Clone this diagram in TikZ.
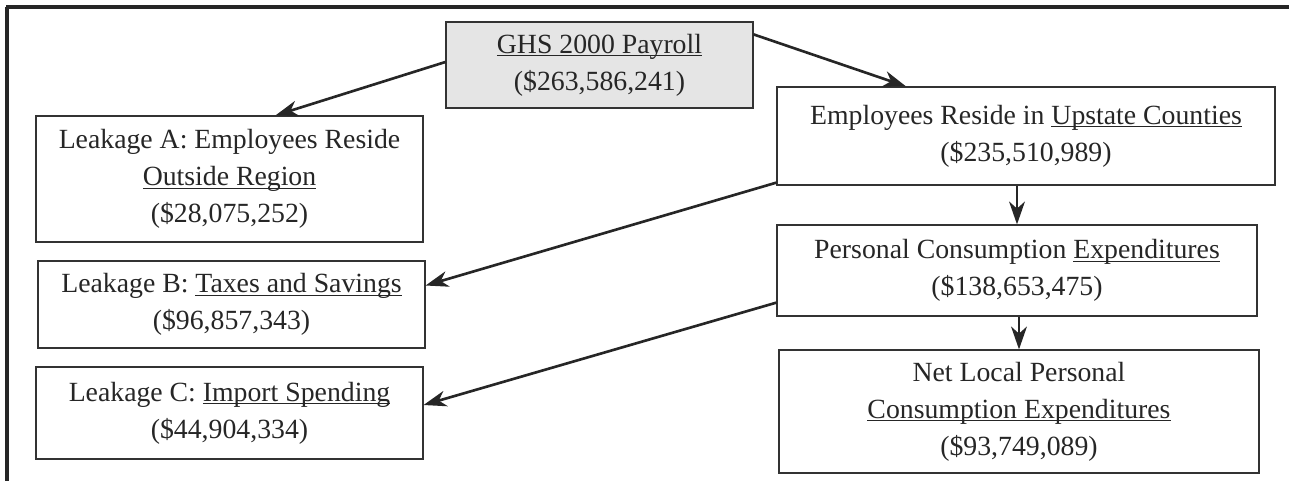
\documentclass[tikz,border=0pt]{standalone}
\usepackage{fontspec}
\setmainfont{Liberation Serif}
\usetikzlibrary{arrows.meta, positioning, calc}
\newcommand{\uln}[1]{\underline{\smash{#1}}\vphantom{#1}}

\begin{document}
\begin{tikzpicture}[
        x=0.02cm, y=-0.02cm,
        every node/.style={font=\fontsize{15.8}{21}\selectfont, text=black!85, align=center},
        box/.style={draw=black!80, line width=0.7pt, inner sep=2pt},
        arr/.style={-{Stealth[length=13pt, width=9pt, inset=4pt]}, line width=1.5pt, black!85}
    ]
        \useasboundingbox (0,0) rectangle (1289,481);
        % Frame
        \draw[line width=2pt, black!85] (6,7) -- (1289,7);
        \draw[line width=2pt, black!85] (7,7) -- (7,481);

        % Top
        \node[box, fill=gray!20, minimum width=6.14cm, minimum height=1.72cm] (payroll) at (599.5,65) {\uln{GHS 2000 Payroll}\\(\$263,586,241)};

        % Leakages
        \node[box, minimum width=7.74cm, minimum height=2.52cm] (leakA) at (229.5,179) {Leakage A: Employees Reside\\\uln{Outside Region}\\(\$28,075,252)};
        \node[box, minimum width=7.74cm, minimum height=1.74cm] (leakB) at (231.5,304.5) {Leakage B: \uln{Taxes and Savings}\\(\$96,857,343)};
        \node[box, minimum width=7.74cm, minimum height=1.84cm] (leakC) at (229.5,413) {Leakage C: \uln{Import Spending}\\(\$44,904,334)};

        % Local chain
        \node[box, minimum width=9.96cm, minimum height=1.96cm] (upstate) at (1026,136) {Employees Reside in \uln{Upstate Counties}\\(\$235,510,989)};
        \node[box, minimum width=9.6cm, minimum height=1.82cm] (pce) at (1017,270.5) {Personal Consumption \uln{Expenditures}\\(\$138,653,475)};
        \node[box, minimum width=9.6cm, minimum height=2.46cm] (netpce) at (1019,411.5) {Net Local Personal\\\uln{Consumption Expenditures}\\(\$93,749,089)};

        % Connections
        \draw[arr] ([yshift=0.06cm]payroll.west) -- ([xshift=0.92cm]leakA.north);
        \draw[arr] ([yshift=-0.26cm]payroll.north east) -- ([xshift=-2.4cm]upstate.north);
        \draw[arr] ([yshift=0.06cm]upstate.south west) -- ([yshift=0.38cm]leakB.east);
        \draw[arr] ([yshift=0.28cm]pce.south west) -- ([yshift=0.16cm]leakC.east);
        \draw[arr] (upstate.south -| pce.north) -- (pce.north);
        \draw[arr] (netpce.north |- pce.south) -- (netpce.north);
    \end{tikzpicture}
\end{document}
